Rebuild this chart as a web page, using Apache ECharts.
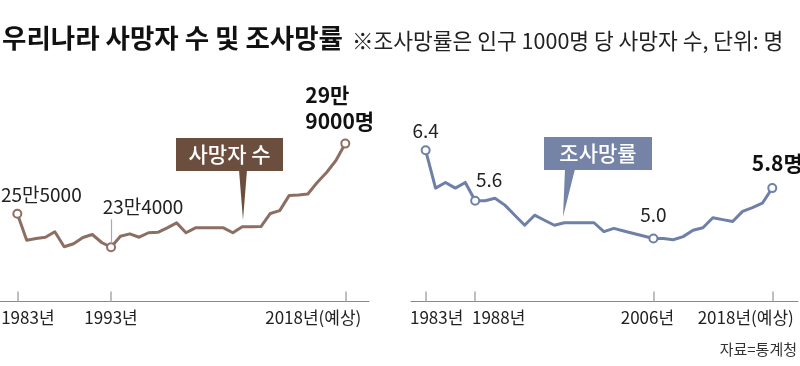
<!DOCTYPE html>
<html><head><meta charset="utf-8">
<script src="https://cdn.jsdelivr.net/npm/echarts@6/dist/echarts.min.js"></script>
<style>html,body{margin:0;padding:0;background:#fff}#c{width:800px;height:366px}</style>
</head><body><div id="c"></div>
<script>
const years = [1983,1984,1985,1986,1987,1988,1989,1990,1991,1992,1993,1994,1995,1996,1997,1998,1999,2000,2001,2002,2003,2004,2005,2006,2007,2008,2009,2010,2011,2012,2013,2014,2015,2016,2017,2018];
const deaths = [255000,238400,239500,240300,243700,234300,236200,240100,242000,237000,234000,240900,242400,240300,243100,243400,246200,249300,243100,246200,246200,246200,246200,243100,246800,246800,247000,255200,257000,266400,266800,267400,274600,280900,288400,299000];
const deathRate = [6.4,5.8,5.89,5.8,5.89,5.6,5.6,5.64,5.53,5.37,5.21,5.37,5.29,5.21,5.25,5.25,5.25,5.25,5.11,5.16,5.12,5.08,5.04,5.0,5.0,4.98,5.03,5.13,5.17,5.33,5.30,5.27,5.43,5.49,5.56,5.8];
const leftTickYears = [1983, 1993, 2018];
const leftTickLabels = ['1983년', '1993년', '2018년(예상)'];
const rightTickYears = [1983, 1988, 2006, 2018];
const rightTickLabels = ['1983년', '1988년', '2006년', '2018년(예상)'];
const deathPointLabels = {1983: '25만5000', 1993: '23만4000', 2018: '29만\n9000명'};
const ratePointLabels = {1983: '6.4', 1988: '5.6', 2006: '5.0', 2018: '5.8명'};
const titleText = '우리나라 사망자 수 및 조사망률';
const noteText = '※조사망률은 인구 1000명 당 사망자 수, 단위: 명';
const sourceText = '자료=통계청';
const deathSeriesName = '사망자 수';
const rateSeriesName = '조사망률';

const KR = "'Noto Sans CJK KR',sans-serif";
const BROWN = '#8c6f62', BROWN_BOX = '#6b4e3e';
const BLUE = '#6f80a8', BLUE_BOX = '#7584a6';

const deathLabelStyle = {
  1983: {position: 'top', distance: 4, offset: [24, 0]},
  1993: {position: 'top', distance: 26, offset: [32, 0]},
  2018: {position: 'top', distance: 5, offset: [-40, 0], align: 'left', fontWeight: 'bold', fontSize: 21, lineHeight: 26, color: '#111'}
};
const rateLabelStyle = {
  1983: {position: 'top', distance: 5, offset: [0, 0]},
  1988: {position: 'top', distance: 6, offset: [14, 0]},
  2006: {position: 'top', distance: 9, offset: [0, 0]},
  2018: {position: 'top', distance: 10, offset: [5, 0], fontWeight: 'bold', fontSize: 21, color: '#111'}
};

function buildData(vals, labels, styles, color) {
  return years.map((y, i) => {
    if (labels[y] === undefined) return {value: [y, vals[i]], symbol: 'none'};
    const st = styles[y];
    return {
      value: [y, vals[i]], symbol: 'circle', symbolSize: 8,
      itemStyle: {color: '#fff', borderColor: color, borderWidth: 2},
      label: Object.assign({show: true, formatter: labels[y], fontFamily: KR, fontSize: 19, color: '#222'}, st)
    };
  });
}

function xAxisCfg(gi, min, max, ticks, tickLabels, pads) {
  return {
    type: 'value', gridIndex: gi, min: min, max: max,
    splitLine: {show: false},
    axisLine: {show: true, onZero: false, lineStyle: {color: '#8a8a8a', width: 1}},
    axisTick: {show: true, inside: true, length: 10, customValues: ticks, lineStyle: {color: '#aaa', width: 1.5}},
    axisLabel: {
      show: true, customValues: ticks, margin: 8, hideOverlap: false,
      formatter: v => { const k = ticks.indexOf(Math.round(v)); return '{p' + k + '|' + tickLabels[k] + '}'; },
      rich: Object.fromEntries(pads.map((p, k) => ['p' + k, {fontFamily: KR, fontSize: 17, color: '#222', padding: p}]))
    }
  };
}

const chart = echarts.init(document.getElementById('c'), null, {renderer: 'canvas'});
chart.setOption({
  animation: false,
  backgroundColor: '#fff',
  grid: [
    {left: 0, width: 369, top: 142, height: 159.5, containLabel: false, outerBoundsMode: 'none'},
    {left: 411, width: 387, top: 112.5, height: 189, containLabel: false, outerBoundsMode: 'none'}
  ],
  xAxis: [
    xAxisCfg(0, 1981.15, 2020.53, leftTickYears, leftTickLabels, [[0,0,0,21],[0,0,0,0],[0,64,0,0]]),
    xAxisCfg(1, 1981.52, 2020.6, rightTickYears, rightTickLabels, [[0,0,0,22],[0,0,0,47],[0,12,0,0],[0,53,0,0]])
  ],
  yAxis: [
    {type: 'value', gridIndex: 0, min: 200000, max: 300000, show: false, splitLine: {show: false}},
    {type: 'value', gridIndex: 1, min: 4, max: 7, show: false, splitLine: {show: false}}
  ],
  series: [
    {
      name: deathSeriesName, type: 'line', xAxisIndex: 0, yAxisIndex: 0,
      data: buildData(deaths, deathPointLabels, deathLabelStyle, BROWN),
      lineStyle: {color: BROWN, width: 3, join: 'round'}, itemStyle: {color: BROWN},
      z: 3,
      markLine: {
        silent: true, symbol: ['none', 'none'], label: {show: false},
        lineStyle: {color: '#aaa', width: 1.2, type: 'solid'},
        data: [[{coord: [1993, 251500]}, {coord: [1993, 236400]}]]
      }
    },
    {
      name: rateSeriesName, type: 'line', xAxisIndex: 1, yAxisIndex: 1,
      data: buildData(deathRate, ratePointLabels, rateLabelStyle, BLUE),
      lineStyle: {color: BLUE, width: 3, join: 'round'}, itemStyle: {color: BLUE},
      z: 3
    }
  ],
  graphic: [
    {type: 'text', left: 2, top: 25, style: {text: titleText, font: "bold 26.5px " + KR, fill: '#111'}},
    {type: 'text', left: 352, top: 30, style: {text: noteText, font: "21.5px " + KR, fill: '#222'}},
    {type: 'text', right: 3, top: 342, style: {text: sourceText, font: "15px " + KR, fill: '#333'}},
    {type: 'rect', shape: {x: 176, y: 138, width: 107, height: 33}, style: {fill: BROWN_BOX}, z: 10},
    {type: 'polygon', shape: {points: [[239, 170], [247, 170], [243, 220]]}, style: {fill: BROWN_BOX}, z: 10},
    {type: 'text', x: 229.5, y: 154.5, style: {text: deathSeriesName, font: "500 21px " + KR, fill: '#fff', align: 'center', verticalAlign: 'middle'}, z: 11},
    {type: 'rect', shape: {x: 544, y: 137, width: 108, height: 33}, style: {fill: BLUE_BOX}, z: 10},
    {type: 'polygon', shape: {points: [[565, 169], [575, 169], [563, 217]]}, style: {fill: BLUE_BOX}, z: 10},
    {type: 'text', x: 598, y: 153.5, style: {text: rateSeriesName, font: "500 21px " + KR, fill: '#fff', align: 'center', verticalAlign: 'middle'}, z: 11}
  ]
});
</script></body></html>
